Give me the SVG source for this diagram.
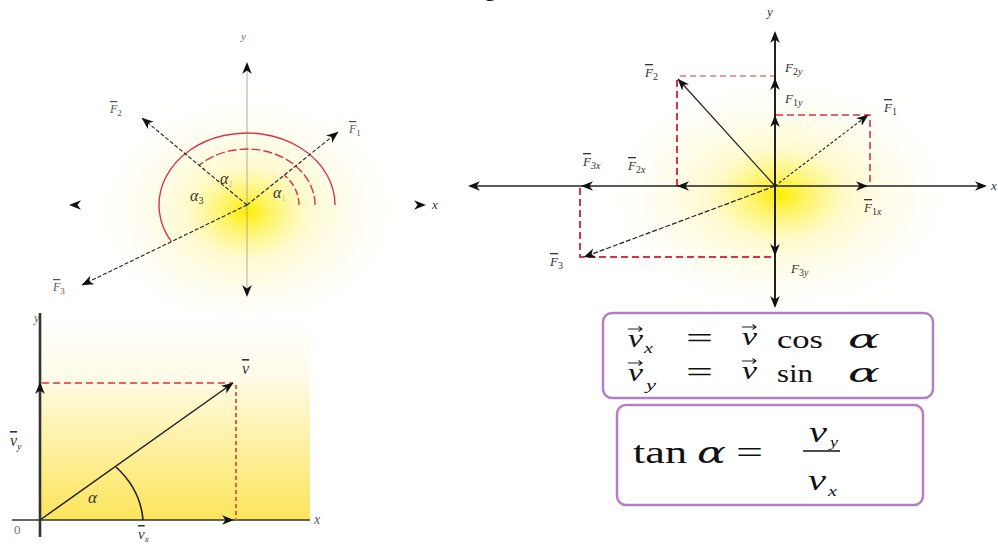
<svg xmlns="http://www.w3.org/2000/svg" xmlns:xlink="http://www.w3.org/1999/xlink" width="998" height="545" viewBox="0 0 998 545">
<style>
.lbl{font-family:"Liberation Serif","DejaVu Serif",serif;font-style:italic;fill:#333}
.sm{font-size:13px}
.tl{font-size:12px;fill:#555}
.eq{font-family:"Liberation Serif","DejaVu Serif",serif;fill:#111}
.it{font-style:italic}
.al{font-family:"DejaVu Serif","Liberation Serif",serif;font-style:italic;fill:#111}
.red{stroke:#d8324a;fill:none}
.vec{stroke:#222;fill:none}
.box{fill:#fff;stroke:#b37fc4;stroke-width:2.5}
.ov{text-decoration:overline}
</style>
<defs>
<path id="ah" d="M0,0 L-12,-4.8 L-8.5,0 L-12,4.8 Z" fill="#111"/>
<marker id="arr" viewBox="0 0 12 10" refX="11.5" refY="5" markerWidth="12" markerHeight="10" markerUnits="userSpaceOnUse" orient="auto">
<path d="M0,0.2 L12,5 L0,9.8 L3.5,5 Z" fill="#111"/>
</marker>
<radialGradient id="glow1" cx="0.5" cy="0.5" r="0.5">
<stop offset="0" stop-color="#ffec00" stop-opacity="1"/>
<stop offset="0.12" stop-color="#fff140" stop-opacity="0.85"/>
<stop offset="0.35" stop-color="#fff6a0" stop-opacity="0.5"/>
<stop offset="0.7" stop-color="#fffbe0" stop-opacity="0.25"/>
<stop offset="1" stop-color="#ffffff" stop-opacity="0"/>
</radialGradient>
<linearGradient id="yl" x1="0" y1="0" x2="0" y2="1">
<stop offset="0" stop-color="#fffbe3"/>
<stop offset="1" stop-color="#fce55a"/>
</linearGradient>
<linearGradient id="yl0" x1="0" y1="0" x2="0" y2="1">
<stop offset="0" stop-color="#ffffff"/>
<stop offset="1" stop-color="#fffce8"/>
</linearGradient>
<path id="vecarrow" d="M0,0 h14 M10.5,-2.5 L14,0 L10.5,2.5" stroke="#222" stroke-width="1.1" fill="none"/>
</defs>

<rect width="998" height="545" fill="#fff"/>

<!-- cut-off heading fragment -->
<text x="484" y="-4" font-family="Liberation Serif, serif" font-size="24" fill="#111">g</text>

<!-- ===== Top-left: angles diagram ===== -->
<g id="fig-angles">
<ellipse cx="247" cy="212" rx="175" ry="135" fill="url(#glow1)"/>
<g id="angles-axes">
<line x1="247" y1="64" x2="247" y2="295" stroke="#999" stroke-width="0.8"/>
<use xlink:href="#ah" transform="translate(247,62) rotate(-90)"/>
<use xlink:href="#ah" transform="translate(247,297) rotate(90)"/>
<use xlink:href="#ah" transform="translate(69,205) rotate(180)"/>
<use xlink:href="#ah" transform="translate(426,205)"/>
<text class="lbl" x="241" y="40" font-size="11" style="fill:#4d6a96">y</text>
<text class="lbl" x="432" y="209" font-size="13">x</text>
</g>
<g id="angles-arcs">
<path class="red" d="M335,205 A88,72 0 1 0 171.3,241.7" stroke-width="1.4"/>
<path class="red" d="M315,205 A68,56 0 0 0 199.1,165.3" stroke-width="1.4" stroke-dasharray="9 3"/>
<path class="red" d="M299,205 A52,43 0 0 0 284.3,175.1" stroke-width="1.4" stroke-dasharray="7 3"/>
</g>
<g id="angles-vectors">
<line class="vec" x1="247" y1="205" x2="338" y2="132" stroke-width="1.1" stroke-dasharray="4 2" marker-end="url(#arr)"/>
<line class="vec" x1="247" y1="205" x2="142" y2="118" stroke-width="1.1" stroke-dasharray="4 2" marker-end="url(#arr)"/>
<line class="vec" x1="247" y1="205" x2="82" y2="285" stroke-width="1.1" stroke-dasharray="4 2" marker-end="url(#arr)"/>
</g>
<g id="angles-labels">
<text class="lbl tl" x="349" y="133"><tspan class="ov">F</tspan><tspan font-size="9" dy="3" style="font-style:normal">1</tspan></text>
<text class="lbl tl" x="110" y="113"><tspan class="ov">F</tspan><tspan font-size="9" dy="3" style="font-style:normal">2</tspan></text>
<text class="lbl tl" x="53" y="291"><tspan class="ov">F</tspan><tspan font-size="9" dy="3" style="font-style:normal">3</tspan></text>
<text class="lbl" x="273" y="198" font-size="16">α<tspan font-size="8" dy="3" fill="#bbb" style="font-style:normal">1</tspan></text>
<text class="lbl" x="220" y="184" font-size="16">α<tspan font-size="8" dy="3" fill="#bbb" style="font-style:normal">2</tspan></text>
<text class="lbl" x="190" y="201" font-size="16">α<tspan font-size="10" dy="3" style="font-style:normal">3</tspan></text>
</g>
</g>

<!-- ===== Bottom-left: velocity components ===== -->
<g id="fig-velocity">
<rect x="40" y="315" width="270" height="65" fill="url(#yl0)"/>
<rect x="40" y="380" width="270" height="140" fill="url(#yl)"/>
<g id="vel-axes">
<line x1="12" y1="520" x2="310" y2="520" stroke="#333" stroke-width="1.5"/>
<line x1="40" y1="313" x2="40" y2="537" stroke="#333" stroke-width="2.6"/>
<text class="lbl" x="34" y="322" font-size="12" style="fill:#666">y</text>
<text class="lbl" x="314" y="524" font-size="14" style="fill:#555">x</text>
<text x="14" y="534" font-family="Liberation Serif, serif" font-size="13" fill="#777">0</text>
</g>
<g id="vel-dashes">
<line class="red" x1="42" y1="383" x2="233" y2="383" stroke-width="1.5" stroke-dasharray="7 4"/>
<line x1="236" y1="385" x2="236" y2="520" stroke="#e0623f" stroke-width="2" stroke-dasharray="4 3"/>
</g>
<g id="vel-vectors">
<line class="vec" x1="40" y1="520" x2="233" y2="383" stroke-width="1.5" marker-end="url(#arr)"/>
<use xlink:href="#ah" transform="translate(40,382) rotate(-90)"/>
<use xlink:href="#ah" transform="translate(234,520)"/>
<path d="M143,520 A103,87 0 0 0 116,467" fill="none" stroke="#222" stroke-width="1.6"/>
</g>
<g id="vel-labels">
<text class="lbl" x="242" y="374" font-size="16"><tspan class="ov">v</tspan></text>
<text class="lbl" x="10" y="446" font-size="16"><tspan class="ov">v</tspan><tspan font-size="10" dy="4">y</tspan></text>
<text class="lbl" x="138" y="539" font-size="15"><tspan class="ov">v</tspan><tspan font-size="9" dy="3">x</tspan></text>
<text class="lbl" x="88" y="503" font-size="17">α</text>
</g>
</g>

<!-- ===== Right: force components ===== -->
<g id="fig-forces">
<ellipse cx="780" cy="195" rx="200" ry="135" fill="url(#glow1)"/>
<g id="forces-dashes">
<path class="red" d="M677,186 V80" stroke-width="2" stroke-dasharray="7 4"/>
<path class="red" d="M680,76 H775" stroke-width="1" stroke-dasharray="6 4"/>
<path class="red" d="M776,115 H870 V186" stroke-width="1.6" stroke-dasharray="7 4"/>
<path class="red" d="M580,188 V257 H775" stroke-width="2" stroke-dasharray="7 4"/>
</g>
<g id="forces-axes">
<line x1="470" y1="186" x2="985" y2="186" stroke="#222" stroke-width="1.5"/>
<line x1="775" y1="33" x2="775" y2="306" stroke="#222" stroke-width="2"/>
<use xlink:href="#ah" transform="translate(468,186) rotate(180)"/>
<use xlink:href="#ah" transform="translate(987,186)"/>
<use xlink:href="#ah" transform="translate(775,31) rotate(-90)"/>
<use xlink:href="#ah" transform="translate(775,308) rotate(90)"/>
<use xlink:href="#ah" transform="translate(868,186)"/>
<use xlink:href="#ah" transform="translate(677,186) rotate(180)"/>
<use xlink:href="#ah" transform="translate(581,186) rotate(180)"/>
<use xlink:href="#ah" transform="translate(775,78) rotate(-90)"/>
<use xlink:href="#ah" transform="translate(775,115) rotate(-90)"/>
<use xlink:href="#ah" transform="translate(775,256) rotate(90)"/>
</g>
<g id="forces-vectors">
<line class="vec" x1="775" y1="186" x2="868" y2="115" stroke-width="1.1" stroke-dasharray="3 2" marker-end="url(#arr)"/>
<line class="vec" x1="775" y1="186" x2="678" y2="79" stroke-width="1.2" marker-end="url(#arr)"/>
<line class="vec" x1="775" y1="186" x2="584" y2="257" stroke-width="1.2" stroke-dasharray="5 2" marker-end="url(#arr)"/>
</g>
<g id="forces-labels">
<text class="lbl" x="767" y="16" font-size="13">y</text>
<text class="lbl" x="991" y="190" font-size="13">x</text>
<text class="lbl sm" x="645" y="77"><tspan class="ov">F</tspan><tspan font-size="10" dy="3" style="font-style:normal">2</tspan></text>
<text class="lbl sm" x="785" y="72">F<tspan font-size="10" dy="3" style="font-style:normal">2</tspan><tspan font-size="10">y</tspan></text>
<text class="lbl sm" x="785" y="103">F<tspan font-size="10" dy="3" style="font-style:normal">1</tspan><tspan font-size="10">y</tspan></text>
<text class="lbl sm" x="884" y="112"><tspan class="ov">F</tspan><tspan font-size="10" dy="3" style="font-style:normal">1</tspan></text>
<text class="lbl sm" x="583" y="166"><tspan class="ov">F</tspan><tspan font-size="10" dy="3">3x</tspan></text>
<text class="lbl sm" x="628" y="170"><tspan class="ov">F</tspan><tspan font-size="10" dy="3" style="font-style:normal">2</tspan><tspan font-size="10">x</tspan></text>
<text class="lbl sm" x="864" y="212"><tspan class="ov">F</tspan><tspan font-size="10" dy="3" style="font-style:normal">1</tspan><tspan font-size="10">x</tspan></text>
<text class="lbl sm" x="550" y="266"><tspan class="ov">F</tspan><tspan font-size="10" dy="3" style="font-style:normal">3</tspan></text>
<text class="lbl sm" x="791" y="273">F<tspan font-size="10" dy="3" style="font-style:normal">3</tspan><tspan font-size="10">y</tspan></text>
</g>
</g>

<!-- ===== Formula boxes ===== -->
<g id="box-components">
<rect class="box" x="603" y="313" width="330" height="85" rx="9"/>
<use xlink:href="#vecarrow" transform="translate(628,329)"/>
<text class="eq it" x="628" y="347" font-size="26" textLength="15" lengthAdjust="spacingAndGlyphs">v</text>
<text class="eq it" x="644" y="353" font-size="14" textLength="9" lengthAdjust="spacingAndGlyphs">x</text>
<text class="eq" x="686" y="348" font-size="30" textLength="27" lengthAdjust="spacingAndGlyphs">=</text>
<use xlink:href="#vecarrow" transform="translate(742,327)"/>
<text class="eq it" x="742" y="345" font-size="26" textLength="15" lengthAdjust="spacingAndGlyphs">v</text>
<text class="eq" x="777" y="348" font-size="26" textLength="46" lengthAdjust="spacingAndGlyphs">cos</text>
<text class="al" x="848" y="348" font-size="26" textLength="32" lengthAdjust="spacingAndGlyphs">α</text>
<use xlink:href="#vecarrow" transform="translate(628,363)"/>
<text class="eq it" x="628" y="381" font-size="26" textLength="15" lengthAdjust="spacingAndGlyphs">v</text>
<text class="eq it" x="646" y="390" font-size="14" textLength="10" lengthAdjust="spacingAndGlyphs">y</text>
<text class="eq" x="686" y="382" font-size="30" textLength="27" lengthAdjust="spacingAndGlyphs">=</text>
<use xlink:href="#vecarrow" transform="translate(742,361)"/>
<text class="eq it" x="742" y="379" font-size="26" textLength="15" lengthAdjust="spacingAndGlyphs">v</text>
<text class="eq" x="777" y="382" font-size="26" textLength="36" lengthAdjust="spacingAndGlyphs">sin</text>
<text class="al" x="848" y="382" font-size="26" textLength="32" lengthAdjust="spacingAndGlyphs">α</text>
</g>
<g id="box-tan">
<rect class="box" x="617" y="405" width="306" height="100" rx="9"/>
<text class="eq" x="633" y="463" font-size="32" textLength="54" lengthAdjust="spacingAndGlyphs">tan</text>
<text class="al" x="697" y="463" font-size="30" textLength="29" lengthAdjust="spacingAndGlyphs">α</text>
<text class="eq" x="736" y="463" font-size="32" textLength="27" lengthAdjust="spacingAndGlyphs">=</text>
<text class="eq it" x="809" y="442" font-size="30" textLength="18" lengthAdjust="spacingAndGlyphs">v</text>
<text class="eq it" x="830" y="447" font-size="14" textLength="8" lengthAdjust="spacingAndGlyphs">y</text>
<line x1="803" y1="451" x2="840" y2="451" stroke="#111" stroke-width="1.5"/>
<text class="eq it" x="808" y="490" font-size="30" textLength="18" lengthAdjust="spacingAndGlyphs">v</text>
<text class="eq it" x="828" y="496" font-size="14" textLength="9" lengthAdjust="spacingAndGlyphs">x</text>
</g>
</svg>
